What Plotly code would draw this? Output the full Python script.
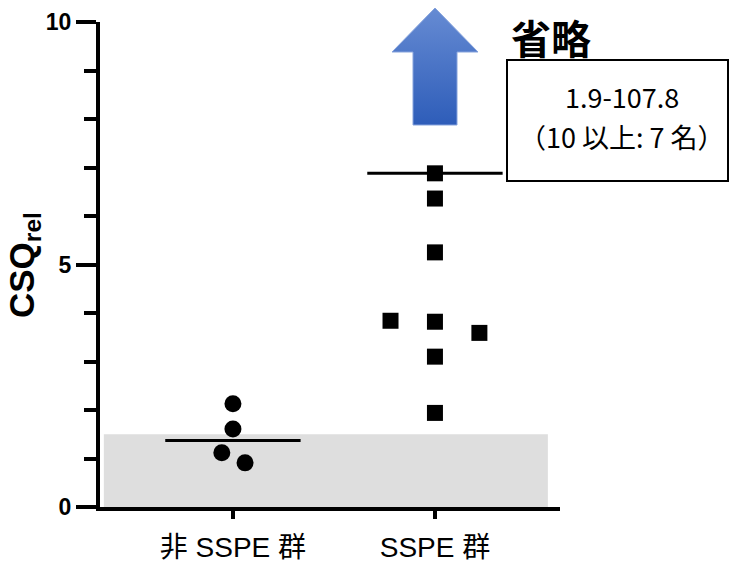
import plotly.graph_objects as go

# ---------------- data ----------------
group_labels = ["非 SSPE 群", "SSPE 群"]
non_sspe_values = [2.13, 1.61, 1.12, 0.91]
non_sspe_jitter = [0.0, 0.0, -0.055, 0.06]
sspe_values = [6.88, 6.36, 5.25, 3.84, 3.82, 3.59, 3.10, 1.94]
sspe_jitter = [0.0, 0.0, 0.0, -0.22, 0.0, 0.22, 0.0, 0.0]
medians = [1.37, 6.88]
normal_upper = 1.5
y_ticks = [0, 5, 10]
omitted_title = "省略"
omitted_range = "1.9-107.8"
omitted_note = "（10 以上: 7 名）"
y_title = "CSQ<sub>rel</sub>"

W, H = 730, 567
CJK = "Liberation Sans, Noto Sans CJK JP"
JP = "Noto Sans CJK JP"


def px(x):
    return x / W


def py(y):
    return 1 - y / H


fig = go.Figure()

# normal range band
fig.add_shape(type="rect", xref="x", yref="y", x0=-0.639, x1=1.559, y0=0, y1=normal_upper,
              fillcolor="#dedede", line_width=0, layer="below")

# points
fig.add_trace(go.Scatter(
    x=[0 + j for j in non_sspe_jitter], y=non_sspe_values, mode="markers",
    marker=dict(symbol="circle", size=17, color="black"), showlegend=False,
    cliponaxis=False))
fig.add_trace(go.Scatter(
    x=[1 + j for j in sspe_jitter], y=sspe_values, mode="markers",
    marker=dict(symbol="square", size=16, color="black"), showlegend=False,
    cliponaxis=False))

# median lines
for i, m in enumerate(medians):
    fig.add_trace(go.Scatter(x=[i - 0.335, i + 0.335], y=[m, m], mode="lines",
                             line=dict(color="black", width=3), showlegend=False,
                             cliponaxis=False))

# arrow on a pixel overlay subplot
arrow_x = [413, 457, 457, 478, 435, 392, 413, 413]
arrow_y = [125, 125, 52, 52, 8, 52, 52, 125]
fig.add_trace(go.Scatter(
    x=arrow_x, y=arrow_y, xaxis="x2", yaxis="y2", mode="lines", fill="toself",
    line=dict(color="#86a3dc", width=1),
    fillgradient=dict(type="vertical", start=8, stop=125,
                      colorscale=[[0, "#668bd3"], [1, "#2e5db9"]]),
    showlegend=False, hoverinfo="skip"))

fig.update_layout(
    template="none",
    width=W, height=H,
    margin=dict(l=0, r=0, t=0, b=0, pad=0, autoexpand=False),
    paper_bgcolor="white", plot_bgcolor="rgba(0,0,0,0)",
    xaxis=dict(domain=[px(100), px(560)], range=[-0.658, 1.619], automargin=False,
               tickvals=[0, 1], ticktext=group_labels,
               showline=True, linewidth=4, linecolor="black",
               ticks="outside", ticklen=8, tickwidth=4, tickcolor="black",
               tickfont=dict(family=CJK, size=28, color="black"),
               showgrid=False, zeroline=False, fixedrange=True, ticklabelstandoff=4),
    yaxis=dict(domain=[py(507), py(22)], range=[0, 10], automargin=False,
               tickvals=y_ticks, showline=True, linewidth=4, linecolor="black",
               ticks="outside", ticklen=20, tickwidth=4, tickcolor="black",
               minor=dict(ticks="outside", ticklen=12, tickwidth=4, tickcolor="black", dtick=1,
                          showgrid=False),
               tickfont=dict(family="Liberation Sans", size=23, color="black", weight="bold"),
               showgrid=False, zeroline=False, fixedrange=True, ticklabelstandoff=0),
    xaxis2=dict(domain=[0, 1], range=[0, W], visible=False, anchor="y2", fixedrange=True,
                automargin=False),
    yaxis2=dict(domain=[0, 1], range=[H, 0], visible=False, anchor="x2", fixedrange=True,
                automargin=False),
)

# omitted-data box
fig.add_shape(type="rect", xref="paper", yref="paper", x0=px(507), x1=px(728),
              y0=py(181), y1=py(60), line=dict(color="black", width=2), fillcolor="white")

fig.add_annotation(x=px(622), y=py(96), xref="paper", yref="paper", text=omitted_range,
                   xanchor="center", yanchor="middle",
                   showarrow=False, font=dict(family=JP, size=27, color="black"))
fig.add_annotation(x=px(622), y=py(137), xref="paper", yref="paper", text=omitted_note,
                   xanchor="center", yanchor="middle",
                   showarrow=False, font=dict(family=JP, size=27, color="black"))
fig.add_annotation(x=px(551), y=py(37), xref="paper", yref="paper", text=omitted_title,
                   xanchor="center", yanchor="middle",
                   showarrow=False, font=dict(family=JP, size=40, color="black", weight="bold"))

# y title
fig.add_annotation(x=px(0), y=py(265), xref="paper", yref="paper", text=y_title,
                   xanchor="left", yanchor="middle",
                   textangle=-90, showarrow=False,
                   font=dict(family="Liberation Sans", size=35, color="black", weight="bold"))

fig.write_html("out.html", post_script="document.body.style.margin='0';",
               config={"displayModeBar": False})
